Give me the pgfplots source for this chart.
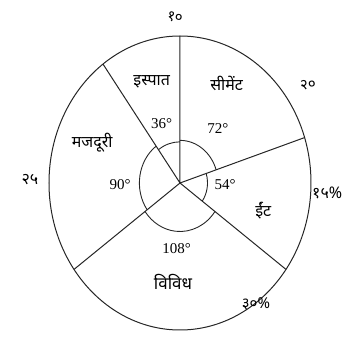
\documentclass[border=0pt]{standalone}
\usepackage{fontspec}
\setmainfont{Liberation Serif}
\newfontfamily\hindi[Script=Devanagari]{Noto Sans}
\usepackage{pgfplots}
\pgfplotsset{compat=1.18}
\usepackage{pgfplotstable}

% spoke ends: boundary angles of the sectors (deg), r=1 on the rim
% इस्पात 36, सीमेंट 72, ईंट 54, विविध 108, मजदूरी 90
\pgfplotstableread{
a r
90 1
90 0
18 1
18 0
-36 1
-36 0
-144 1
-144 0
126 1
}\spokes

\def\ux{131}
\def\uy{147}
% elliptical arc round the centre between two angles (expanded now, drawn later by the axis)
\newcommand{\angarc}[3]{%
  \pgfmathsetmacro{\arx}{#1*\ux}%
  \pgfmathsetmacro{\ary}{#1*\uy}%
  \pgfmathsetmacro{\asx}{\arx*cos(#2)}%
  \pgfmathsetmacro{\asy}{\ary*sin(#2)}%
  \edef\tmp{\noexpand\draw[line width=0.9pt, black!85] (axis cs:0,0) ++(\asx pt,\asy pt)
    arc [start angle=#2, end angle=#3, x radius=\arx pt, y radius=\ary pt];}%
  \tmp}

\begin{document}
\begin{tikzpicture}
  \begin{axis}[
    width=362pt, height=354pt, scale only axis,
    xmin=-1.3740, xmax=1.3893,
    ymin=-1.1633, ymax=1.2449,
    hide axis, clip=false,
    ]
    \draw[line width=1pt, black!85] (axis cs:0,0) ellipse [x radius=131pt, y radius=147pt];
    \addplot[line width=1pt, black!85, mark=none]
      table[x expr={\thisrow{r}*cos(\thisrow{a})}, y expr={\thisrow{r}*sin(\thisrow{a})}] {\spokes};

    \angarc{0.28}{126}{90}
    \angarc{0.29}{90}{18}
    \angarc{0.21}{18}{-36}
    \angarc{0.33}{-36}{-144}
    \angarc{0.31}{-144}{-234}

    % sector names
    \node[font=\hindi\fontsize{16}{18}\selectfont] at (axis cs:-0.216,0.689) {इस्पात};
    \node[font=\hindi\fontsize{16}{18}\selectfont] at (axis cs:0.356,0.678) {सीमेंट};
    \node[font=\hindi\fontsize{16}{18}\selectfont] at (axis cs:-0.67,0.272) {मजदूरी};
    \node[font=\hindi\fontsize{16}{18}\selectfont] at (axis cs:0.636,-0.19) {ईंट};
    \node[font=\hindi\fontsize{17}{19}\selectfont] at (axis cs:-0.053,-0.673) {विविध};

    % angles
    \node[font=\fontsize{15}{17}\selectfont] at (axis cs:-0.14,0.406) {36°};
    \node[font=\fontsize{15}{17}\selectfont] at (axis cs:0.29,0.374) {72°};
    \node[font=\fontsize{15}{17}\selectfont] at (axis cs:-0.458,-0.014) {90°};
    \node[font=\fontsize{15}{17}\selectfont] at (axis cs:0.344,-0.014) {54°};
    \node[font=\fontsize{15}{17}\selectfont] at (axis cs:-0.025,-0.444) {108°};

    % handwritten shares
    \node[font=\hindi\fontsize{15}{17}\selectfont, rotate=-10] at (axis cs:-0.038,1.13) {१०};
    \node[font=\hindi\fontsize{15}{17}\selectfont, rotate=10] at (axis cs:0.977,0.667) {२०};
    \node[font=\hindi\fontsize{16}{18}\selectfont] at (axis cs:-1.145,0.02) {२५};
    \node[font=\hindi\bfseries\fontsize{16}{18}\selectfont, anchor=west, inner sep=1pt] at (axis cs:1.0,-0.068) {१५\%};
    \node[font=\hindi\fontsize{15}{17}\selectfont, inner sep=0pt] at (axis cs:0.58,-0.82) {३०\%};
  \end{axis}
  \pgfresetboundingbox
  \useasboundingbox (current axis.south west) rectangle (current axis.north east);
\end{tikzpicture}
\end{document}
